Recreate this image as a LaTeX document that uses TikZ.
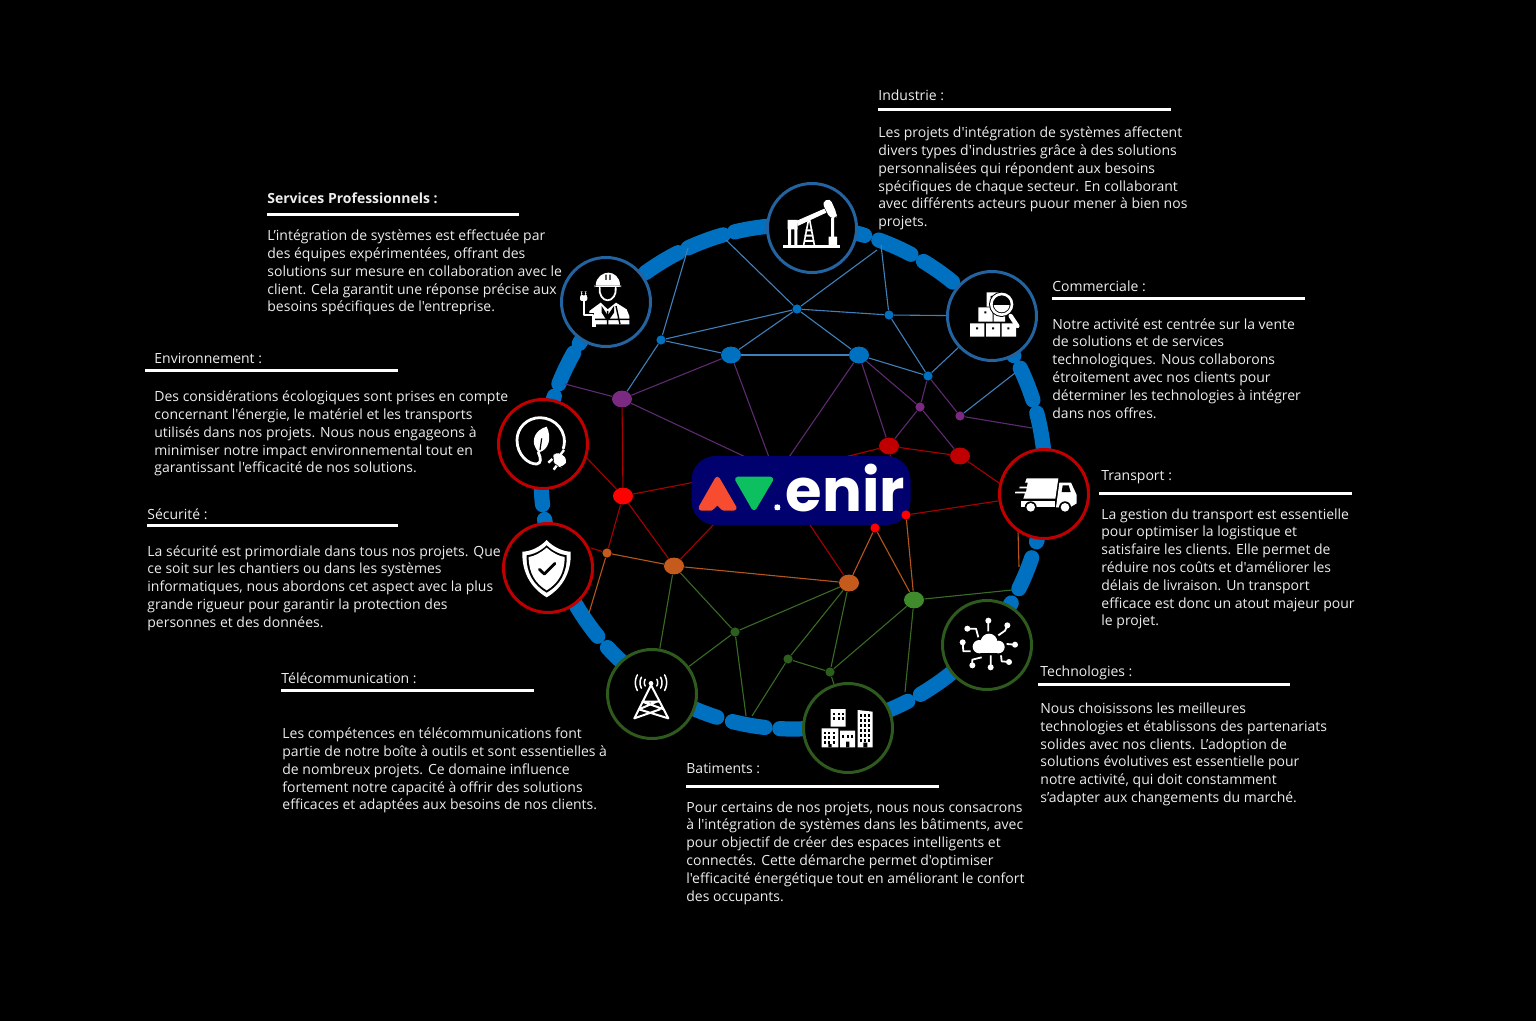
\documentclass[tikz,border=0pt]{standalone}
\usepackage{fontspec}
\setmainfont{Open Sans}[Ligatures=TeXOff]
\newfontfamily\logofont{Poppins}
\usetikzlibrary{shapes.geometric}
\definecolor{ringblue}{HTML}{0070C0}
\definecolor{cblue}{HTML}{23639F}
\definecolor{cred}{HTML}{C00000}
\definecolor{cgreen}{HTML}{2F5A1E}
\definecolor{eblue}{HTML}{3F80BA}
\definecolor{epurple}{HTML}{5E2A70}
\definecolor{ered}{HTML}{A80000}
\definecolor{eorange}{HTML}{B5571C}
\definecolor{egreen}{HTML}{3A6B24}
\definecolor{npurple}{HTML}{7A2A80}
\definecolor{norange}{HTML}{C55A1D}
\definecolor{ngreen}{HTML}{3F8A2B}
\definecolor{ndgreen}{HTML}{2C5E1E}
\definecolor{logobg}{HTML}{00006E}
\definecolor{logoa}{HTML}{F74C2F}
\definecolor{logov}{HTML}{0CC05F}
\definecolor{txt}{HTML}{EDEDED}
\tikzset{
  ttl/.style={anchor=north west,inner sep=0pt,text=txt,font=\fontsize{7.0}{8.9}\selectfont},
  bdy/.style={anchor=north west,inner sep=0pt,text=txt,align=left,font=\fontsize{7.0}{8.9}\selectfont},
  rulebar/.style={draw=white,line width=1.5pt},
  iconb/.style={circle,draw=cblue,fill=black,line width=1.5pt,minimum size=44.5pt,inner sep=0pt},
  iconr/.style={iconb,draw=cred},
  icong/.style={iconb,draw=cgreen},
  lb/.style={draw=eblue,line width=.55pt},
  lp/.style={draw=epurple,line width=.55pt},
  lr/.style={draw=ered,line width=.55pt},
  lo/.style={draw=eorange,line width=.55pt},
  lg/.style={draw=egreen,line width=.55pt},
  big/.style={ellipse,minimum width=10pt,minimum height=8.4pt,inner sep=0pt,fill=#1},
  small/.style={circle,minimum size=4.6pt,inner sep=0pt,fill=#1},
  seg/.style={draw=ringblue,line width=7.6pt,line cap=round},
  wl/.style={draw=white,line width=#1,line cap=round,line join=round},
  zoomed/.style={x=.16667pt,y=-.16667pt},
}
\begin{document}
\begin{tikzpicture}[x=.5pt,y=-.5pt]
\pgfdeclarelayer{bg}\pgfsetlayers{bg,main}
\useasboundingbox (0,0) rectangle (1536,1021);
% ---------- icon circles
\node[iconb] (worker) at (606,302) {};
\node[iconb] (oil) at (812,228) {};
\node[iconb] (shop) at (992,316) {};
\node[iconr] (truck) at (1044,494) {};
\node[icong] (cloud) at (987,645) {};
\node[icong] (city) at (848,728) {};
\node[icong] (tower) at (652,694) {};
\node[iconr] (shield) at (548,568) {};
\node[iconr] (eco) at (543,444) {};
% ---------- logo
\node[draw=none,fill=logobg,rounded corners=12pt,minimum width=109.5pt,minimum height=34.5pt,inner sep=0pt] (logo) at (801,490.5) {};
% ---------- network nodes
\node[small=ringblue] (a) at (797,309) {};
\node[small=ringblue] (b) at (661,340) {};
\node[big=ringblue] (c) at (731,355) {};
\node[big=ringblue] (d) at (859,355) {};
\node[small=ringblue] (e) at (889,315) {};
\node[small=ringblue] (f) at (928,376) {};
\node[big=npurple] (g) at (622,399) {};
\node[small=npurple] (h) at (920,407) {};
\node[small=npurple] (i) at (960,416) {};
\node[big=cred] (j) at (889,446) {};
\node[big=cred] (k) at (960,456) {};
\node[big=red] (m) at (623,496) {};
\node[small=norange] (n) at (607,553) {};
\node[big=norange] (o) at (674,566) {};
\node[big=norange] (p) at (849,583) {};
\node[big=ngreen] (q) at (914,600) {};
\node[small=ndgreen] (r) at (735,632) {};
\node[small=ndgreen] (s) at (788,659) {};
\node[small=ndgreen] (t) at (830,672) {};
\node[small=red] (u) at (906,515) {};
\node[small=red] (v) at (875,528) {};
% ---------- free ends on the ring / logo
\coordinate (x1) at (688,248);\coordinate (x2) at (726,240);\coordinate (x3) at (877,250);
\coordinate (x4) at (881,245);\coordinate (x5) at (1015,373);\coordinate (x6) at (565,384);
\coordinate (x7) at (1032,428);\coordinate (x8) at (589,613);\coordinate (x9) at (746,716);
\coordinate (x10) at (752,716);\coordinate (x11) at (905,692);\coordinate (x12) at (1012,590);
\coordinate (x13) at (1018,530);\coordinate (x14) at (1019,567);\coordinate (x15) at (585,456);
\coordinate (x16) at (591,548);\coordinate (x17) at (999,483);
\coordinate (l1) at (752,460);\coordinate (l2) at (770,460);\coordinate (l3) at (787,460);
\coordinate (l4) at (833,460);\coordinate (l5) at (695,482);\coordinate (l6) at (716,522);
\coordinate (l7) at (808,522);\coordinate (l8) at (891,460);
\begin{pgfonlayer}{bg}
\fill[black] (0,0) rectangle (1536,1021);
\foreach \sa/\sb in {234.2/242.9,245.4/253.9,256.6/270,280/286.5,289.9/297.9,301.2/309.3,325/331.2,334.4/342.2,345.3/356,5/14.9,18.7/26.3,30/36,51.3/59.6,62.9/72,80/93,96.4/103.9,107.6/116,128/137.4,140.8/150,165/170.3,173.7/180,194/198.7,201.7/209.5,212/216}
  \draw[seg] plot[domain=\sa:\sb,samples=12,smooth] ({793+252*cos(\x)},{477+252*sin(\x)});
\foreach \p/\q in {x1/b,x2/a,b/a,b/c,b/g,c/a,c/d,a/x3,a/e,a/d,x4/e,e/shop,e/f,d/f,f/shop,i/x5}
  \draw[lb] (\p) -- (\q);
\foreach \p/\q in {g/c,g/x6,g/l1,c/l2,d/l3,d/j,d/h,h/j,h/k,f/h,f/i,i/x7}
  \draw[lp] (\p) -- (\q);
\foreach \p/\q in {g/m,m/x15,m/l5,m/n,m/o,o/l6,p/l7,u/truck,k/x17,k/j,j/l4,j/l8,n/x16}
  \draw[lr] (\p) -- (\q);
\foreach \p/\q in {n/o,n/x8,o/p,p/v,v/q,u/q,x13/x14}
  \draw[lo] (\p) -- (\q);
\foreach \p/\q in {o/r,o/tower,r/tower,r/p,r/x9,s/x10,s/p,s/t,t/p,t/q,t/city,q/x11,q/x12}
  \draw[lg] (\p) -- (\q);
\end{pgfonlayer}
% ---------- logo content
\begin{scope}[shift={(685,450)},zoomed]
\fill[fill=logoa,draw=logoa,line width=2.6pt,line join=round] (97,88)--(48,174)--(78,174)--(97,156)--(116,174)--(147,174)--cycle;
\fill[fill=logov,draw=logov,line width=2.6pt,line join=round] (158,88)--(257,88)--(207,173)--cycle;
\fill[white,rounded corners=2pt] (277,158)--(291,172)--(277,186)--(263,172)--cycle;
\node[anchor=base west,inner sep=0pt,text=white,font=\logofont\bfseries\fontsize{29.6}{29.6}\selectfont] (logotext) at (301,183) {enir};
\end{scope}
% ---------- oil pump
\begin{scope}[shift={(775,190)},zoomed]
\fill[white] (25,165) rectangle (195,175);
\fill[white] (38,90) rectangle (68,118) (39,118) rectangle (48,165) (58,118) rectangle (67,165);
\fill[white] (66,92)--(148,56)--(154,68)--(68,108)--cycle;
\fill[white,rounded corners=2pt] (141,37)--(165,25)--(186,72)--(184,85)--(165,85)--cycle;
\fill[white] (168,84) rectangle (177,142) (161,140) rectangle (186,165);
\draw[wl=.8pt,line cap=butt] (86,165)--(100,92) (118,165)--(104,90);
\fill[white] (92,118) rectangle (112,124) (89,134) rectangle (115,140) (87,150) rectangle (117,156);
\end{scope}
% ---------- worker
\begin{scope}[shift={(560,256)},zoomed]
\fill[white] (107,88) .. controls (108,62) and (130,50) .. (145,50) .. controls (160,50) and (180,62) .. (180,88) -- cycle;
\fill[white,rounded corners=1pt] (104,88) rectangle (183,93);
\fill[black] (136,56) rectangle (140,72) (148,56) rectangle (152,72);
\draw[wl=.9pt] (119,95) .. controls (116,115) and (128,133) .. (143,133) .. controls (158,133) and (170,115) .. (167,95);
\fill[white] (86,205)--(88,165)--(122,140)--(143,160)--(168,140)--(200,160)--(208,180)--(208,205)--cycle;
\fill[black] (125,150)--(143,178)--(162,150)--(162,170)--(148,190)--(138,190)--(125,170)--cycle;
\draw[black,line width=.7pt] (105,190)--(210,190) (143,165)--(143,215) (168,150)--(180,205);
\fill[white,rounded corners=1pt] (60,118) rectangle (82,135) (63,106) rectangle (67,118) (75,106) rectangle (79,118);
\fill[black] (76,170) rectangle (102,215);
\draw[wl=.9pt,line cap=butt] (71,135)--(71,178)--(98,178)--(98,213);
\draw[wl=.9pt,line cap=butt] (106,205)--(106,213);
\end{scope}
% ---------- shop
\begin{scope}[shift={(945,270)},zoomed]
\fill[white] (75,160) rectangle (118,200) (123,160) rectangle (165,200) (170,160) rectangle (213,200);
\fill[white] (100,112) rectangle (143,155) (146,130) rectangle (180,155) (125,67) rectangle (165,110);
\fill[black] (93,172) rectangle (99,178) (141,172) rectangle (147,178) (187,172) rectangle (193,178) (118,124) rectangle (124,130) (137,78) rectangle (143,84);
\fill[black] (170,103) circle[radius=38];
\draw[white,line width=1.3pt] (170,103) circle[radius=31];
\begin{scope}
\clip (170,103) circle[radius=24];
\fill[white] (140,106) rectangle (200,135);
\end{scope}
\draw[wl=2.2pt] (197,138)--(217,168);
\end{scope}
% ---------- truck
\begin{scope}[shift={(780,440)},zoomed]
\fill[white] (740,115)--(835,115)--(826,176)--(730,176)--(735,160)--(705,160)--(706,155)--(738,155)--(740,145)--(718,145)--(719,140)--(741,140)--(743,128)--(735,128)--cycle;
\fill[white] (722,182)--(825,182)--(825,202)--(722,202)--cycle;
\fill[white] (838,128)--(873,128)--(890,165)--(890,190)--(870,202)--(828,202)--cycle;
\fill[black] (848,136)--(866,136)--(872,156)--(845,156)--cycle;
\foreach \wx in {752,855}{\fill[black] (\wx,202) circle[radius=18];\fill[white] (\wx,202) circle[radius=13];}
\end{scope}
% ---------- cloud
\begin{scope}[shift={(940,598)},zoomed]
\fill[white] (118,146) circle[radius=20];
\fill[white] (147,132) circle[radius=25];
\fill[white] (175,147) circle[radius=19];
\fill[white] (118,144) rectangle (175,166);
\foreach \dx/\dy in {145/68,82/92,68/133,202/82,225/140,207/192,152/208,97/202}
  \fill[white] (\dx,\dy) circle[radius=9];
\draw[wl=.9pt,line cap=butt] (145,68)--(145,100) (82,92)--(108,92)--(115,118) (68,133)--(70,160)--(92,160) (202,82)--(195,98)--(175,112) (225,140)--(200,138) (207,192)--(185,190)--(183,172) (152,208)--(152,172) (97,202)--(97,185)--(125,178);
\end{scope}
% ---------- buildings
\begin{scope}[shift={(780,440)},zoomed]
\fill[white] (152,807) rectangle (197,860) (125,865) rectangle (175,922) (180,872) rectangle (225,922);
\fill[white] (233,810)--(278,815)--(278,922)--(233,922)--cycle;
\foreach \wx in {163,176,188}\foreach \wy in {818,832}\fill[black] (\wx-3,\wy) rectangle +(6,8);
\foreach \wx in {135,148,161}\foreach \wy in {875,889,903}\fill[black] (\wx-3,\wy) rectangle +(6,8);
\foreach \wx in {190,203,215}\foreach \wy in {885}\fill[black] (\wx-3,\wy) rectangle +(6,8);
\foreach \wx in {244,256,268}\foreach \wy in {823,838,853,868,883,898}\fill[black] (\wx-3,\wy) rectangle +(6,8);
\fill[black] (198,905) rectangle (208,922) (250,908) rectangle (262,922) (145,912) rectangle (155,922);
\end{scope}
% ---------- tower
\begin{scope}[shift={(490,440)},zoomed]
\draw[wl=1pt] (483,735)--(433,835) (483,735)--(535,835) (457,785)--(510,785) (447,808)--(500,785) (457,785)--(522,808) (433,835)--(510,808) (535,835)--(447,808);
\fill[white] (483,730) circle[radius=7];
\foreach \rr in {20,33,47}{
  \draw[wl=.75pt] plot[domain=150:210,samples=8] ({483+\rr*cos(\x)},{728+\rr*sin(\x)});
  \draw[wl=.75pt] plot[domain=-30:30,samples=8] ({483+\rr*cos(\x)},{728+\rr*sin(\x)});}
\end{scope}
% ---------- shield
\begin{scope}[shift={(490,440)},zoomed]
\fill[white] (170,300) .. controls (190,322) and (220,335) .. (242,335) .. controls (245,400) and (215,445) .. (170,472) .. controls (125,445) and (95,400) .. (97,335) .. controls (120,335) and (150,322) .. (170,300) -- cycle;
\fill[black] (170,316) .. controls (188,334) and (212,344) .. (230,346) .. controls (232,400) and (208,436) .. (170,458) .. controls (132,436) and (108,400) .. (110,346) .. controls (128,344) and (152,334) .. (170,316) -- cycle;
\fill[white] (170,323) .. controls (188,339) and (208,349) .. (224,351) .. controls (224,400) and (203,431) .. (170,451) .. controls (137,431) and (116,400) .. (116,351) .. controls (132,349) and (152,339) .. (170,323) -- cycle;
\draw[black,line width=1.4pt,line cap=round,line join=round] (148,388)--(163,402)--(195,370);
\end{scope}
% ---------- eco
\begin{scope}[shift={(495,395)},zoomed]
\draw[wl=1.4pt,line cap=round] (205,160) .. controls (220,110) and (180,68) .. (135,68) .. controls (95,68) and (66,100) .. (66,135) .. controls (66,180) and (100,208) .. (125,207) .. controls (140,205) and (138,190) .. (130,172);
\fill[white] (155,95) .. controls (120,105) and (110,135) .. (120,155) .. controls (124,165) and (130,172) .. (132,172) .. controls (160,165) and (172,130) .. (155,95) -- cycle;
\draw[black,line width=.6pt] (135,165) -- (140,130);
\fill[white,rounded corners=3pt] (180,168)--(219,190)--(205,218)--(184,214)--(172,192)--cycle;
\draw[wl=1.2pt,line cap=butt] (172,192)--(160,203) (185,212)--(176,224) (207,165)--(197,178);
\end{scope}
% ---------- panels
\node[ttl] (t1) at (878,89) {Industrie :};
\coordinate (r1a) at (878,110);\coordinate (r1b) at (1171,110);\draw[rulebar] (r1a)--(r1b);
\node[bdy] (b1) at (878,126.5) {Les projets d'intégration de systèmes affectent\\divers types d'industries grâce à des solutions\\personnalisées qui répondent aux besoins\\spécifiques de chaque secteur. En collaborant\\avec différents acteurs puour mener à bien nos\\projets.};
\node[ttl,font=\fontsize{7.0}{8.9}\selectfont\bfseries] (t2) at (267,192) {Services Professionnels :};
\coordinate (r2a) at (267,215);\coordinate (r2b) at (519,215);\draw[rulebar] (r2a)--(r2b);
\node[bdy] (b2) at (267,229.5) {L’intégration de systèmes est effectuée par\\des équipes expérimentées, offrant des\\solutions sur mesure en collaboration avec le\\client. Cela garantit une réponse précise aux\\besoins spécifiques de l'entreprise.};
\node[ttl] (t3) at (154,353) {Environnement :};
\coordinate (r3a) at (145,371);\coordinate (r3b) at (398,371);\draw[rulebar] (r3a)--(r3b);
\node[bdy] (b3) at (154,390.5) {Des considérations écologiques sont prises en compte\\concernant l'énergie, le matériel et les transports\\utilisés dans nos projets. Nous nous engageons à\\minimiser notre impact environnemental tout en\\garantissant l'efficacité de nos solutions.};
\node[ttl] (t4) at (147,508) {Sécurité :};
\coordinate (r4a) at (147,525);\coordinate (r4b) at (398,525);\draw[rulebar] (r4a)--(r4b);
\node[bdy] (b4) at (147,545) {La sécurité est primordiale dans tous nos projets. Que\\ce soit sur les chantiers ou dans les systèmes\\informatiques, nous abordons cet aspect avec la plus\\grande rigueur pour garantir la protection des\\personnes et des données.};
\node[ttl] (t5) at (281,672) {Télécommunication :};
\coordinate (r5a) at (281,690);\coordinate (r5b) at (534,690);\draw[rulebar] (r5a)--(r5b);
\node[bdy] (b5) at (282,727.5) {Les compétences en télécommunications font\\partie de notre boîte à outils et sont essentielles à\\de nombreux projets. Ce domaine influence\\fortement notre capacité à offrir des solutions\\efficaces et adaptées aux besoins de nos clients.};
\node[ttl] (t6) at (686,763) {Batiments :};
\coordinate (r6a) at (686,786);\coordinate (r6b) at (939,786);\draw[rulebar] (r6a)--(r6b);
\node[bdy] (b6) at (686,801) {Pour certains de nos projets, nous nous consacrons\\à l'intégration de systèmes dans les bâtiments, avec\\pour objectif de créer des espaces intelligents et\\connectés. Cette démarche permet d'optimiser\\l'efficacité énergétique tout en améliorant le confort\\des occupants.};
\node[ttl] (t7) at (1040,665) {Technologies :};
\coordinate (r7a) at (1038,684);\coordinate (r7b) at (1290,684);\draw[rulebar] (r7a)--(r7b);
\node[bdy] (b7) at (1040,702.5) {Nous choisissons les meilleures\\technologies et établissons des partenariats\\solides avec nos clients. L’adoption de\\solutions évolutives est essentielle pour\\notre activité, qui doit constamment\\s’adapter aux changements du marché.};
\node[ttl] (t8) at (1101,470) {Transport :};
\coordinate (r8a) at (1099,493);\coordinate (r8b) at (1352,493);\draw[rulebar] (r8a)--(r8b);
\node[bdy] (b8) at (1101,508) {La gestion du transport est essentielle\\pour optimiser la logistique et\\satisfaire les clients. Elle permet de\\réduire nos coûts et d'améliorer les\\délais de livraison. Un transport\\efficace est donc un atout majeur pour\\le projet.};
\node[ttl] (t9) at (1052,280) {Commerciale :};
\coordinate (r9a) at (1052,299);\coordinate (r9b) at (1305,299);\draw[rulebar] (r9a)--(r9b);
\node[bdy] (b9) at (1052,318) {Notre activité est centrée sur la vente\\de solutions et de services\\technologiques. Nous collaborons\\étroitement avec nos clients pour\\déterminer les technologies à intégrer\\dans nos offres.};
\end{tikzpicture}
\end{document}
